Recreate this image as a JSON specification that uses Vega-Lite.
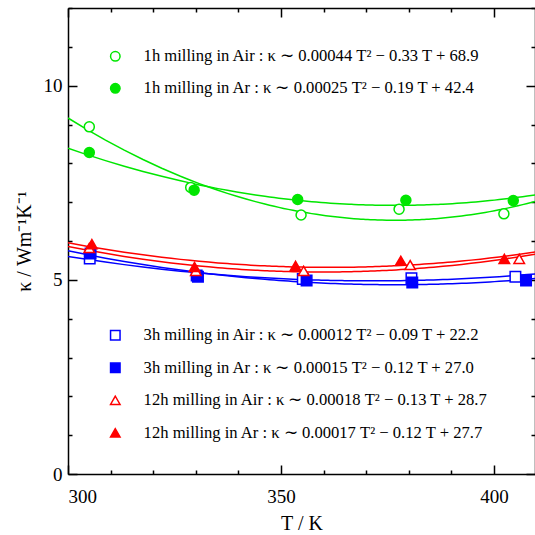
{
  "$schema": "https://vega.github.io/schema/vega-lite/v6.json",
  "width": 467,
  "height": 466,
  "autosize": {"type": "none"},
  "padding": {"left": 68, "top": 8, "right": 0, "bottom": 61},
  "background": "white",
  "config": {
    "view": {"stroke": null},
    "axis": {
      "domainColor": "black", "domainWidth": 1.5, "tickColor": "black", "tickWidth": 1.5,
      "labelFont": "Liberation Serif", "labelFontSize": 19, "labelColor": "black",
      "titleFont": "Liberation Serif", "titleFontSize": 20, "titleFontWeight": "normal", "titleColor": "black",
      "grid": false
    },
    "legend": {
      "labelFont": "Liberation Serif", "labelFontSize": 16.6, "labelColor": "black", "labelLimit": 600,
      "symbolSize": 90, "symbolStrokeWidth": 1.5, "rowPadding": 15, "labelOffset": 20, "padding": 0
    }
  },
  "data": {"values": [
    {"series": "1h milling in Air : κ ∼ 0.00044 T² − 0.33 T + 68.9", "T": 305.0, "k": 8.94},
    {"series": "1h milling in Air : κ ∼ 0.00044 T² − 0.33 T + 68.9", "T": 328.8, "k": 7.38},
    {"series": "1h milling in Air : κ ∼ 0.00044 T² − 0.33 T + 68.9", "T": 354.7, "k": 6.67},
    {"series": "1h milling in Air : κ ∼ 0.00044 T² − 0.33 T + 68.9", "T": 377.7, "k": 6.82},
    {"series": "1h milling in Air : κ ∼ 0.00044 T² − 0.33 T + 68.9", "T": 402.3, "k": 6.70},
    {"series": "1h milling in Ar : κ ∼ 0.00025 T² − 0.19 T + 42.4", "T": 305.0, "k": 8.28},
    {"series": "1h milling in Ar : κ ∼ 0.00025 T² − 0.19 T + 42.4", "T": 329.6, "k": 7.31},
    {"series": "1h milling in Ar : κ ∼ 0.00025 T² − 0.19 T + 42.4", "T": 353.9, "k": 7.07},
    {"series": "1h milling in Ar : κ ∼ 0.00025 T² − 0.19 T + 42.4", "T": 379.3, "k": 7.05},
    {"series": "1h milling in Ar : κ ∼ 0.00025 T² − 0.19 T + 42.4", "T": 404.5, "k": 7.04},
    {"series": "3h milling in Air : κ ∼ 0.00012 T² − 0.09 T + 22.2", "T": 305.1, "k": 5.55},
    {"series": "3h milling in Air : κ ∼ 0.00012 T² − 0.09 T + 22.2", "T": 330.2, "k": 5.11},
    {"series": "3h milling in Air : κ ∼ 0.00012 T² − 0.09 T + 22.2", "T": 355.1, "k": 5.02},
    {"series": "3h milling in Air : κ ∼ 0.00012 T² − 0.09 T + 22.2", "T": 380.6, "k": 5.04},
    {"series": "3h milling in Air : κ ∼ 0.00012 T² − 0.09 T + 22.2", "T": 405.0, "k": 5.08},
    {"series": "3h milling in Ar : κ ∼ 0.00015 T² − 0.12 T + 27.0", "T": 305.3, "k": 5.68},
    {"series": "3h milling in Ar : κ ∼ 0.00015 T² − 0.12 T + 27.0", "T": 330.5, "k": 5.08},
    {"series": "3h milling in Ar : κ ∼ 0.00015 T² − 0.12 T + 27.0", "T": 356.0, "k": 4.98},
    {"series": "3h milling in Ar : κ ∼ 0.00015 T² − 0.12 T + 27.0", "T": 380.8, "k": 4.93},
    {"series": "3h milling in Ar : κ ∼ 0.00015 T² − 0.12 T + 27.0", "T": 407.5, "k": 4.98},
    {"series": "12h milling in Air : κ ∼ 0.00018 T² − 0.13 T + 28.7", "T": 305.0, "k": 5.82},
    {"series": "12h milling in Air : κ ∼ 0.00018 T² − 0.13 T + 28.7", "T": 330.0, "k": 5.23},
    {"series": "12h milling in Air : κ ∼ 0.00018 T² − 0.13 T + 28.7", "T": 355.3, "k": 5.23},
    {"series": "12h milling in Air : κ ∼ 0.00018 T² − 0.13 T + 28.7", "T": 380.3, "k": 5.38},
    {"series": "12h milling in Air : κ ∼ 0.00018 T² − 0.13 T + 28.7", "T": 405.9, "k": 5.54},
    {"series": "12h milling in Ar : κ ∼ 0.00017 T² − 0.12 T + 27.7", "T": 305.6, "k": 5.92},
    {"series": "12h milling in Ar : κ ∼ 0.00017 T² − 0.12 T + 27.7", "T": 329.7, "k": 5.33},
    {"series": "12h milling in Ar : κ ∼ 0.00017 T² − 0.12 T + 27.7", "T": 353.4, "k": 5.36},
    {"series": "12h milling in Ar : κ ∼ 0.00017 T² − 0.12 T + 27.7", "T": 378.1, "k": 5.49},
    {"series": "12h milling in Ar : κ ∼ 0.00017 T² − 0.12 T + 27.7", "T": 402.4, "k": 5.54}
  ]},
  "resolve": {
    "scale": {"fill": "independent", "stroke": "independent", "shape": "independent"},
    "axis": {"x": "independent", "y": "independent"}
  },
  "layer": [
    {
      "transform": [{"filter": "indexof(datum.series, '1h') === 0"}],
      "encoding": {
        "x": {"field": "T", "type": "quantitative",
          "scale": {"domain": [300, 409.6], "nice": false, "zero": false},
          "axis": {"orient": "bottom", "title": "T / K", "titlePadding": 7,
            "values": [300, 310, 320, 330, 340, 350, 360, 370, 380, 390, 400],
            "labelExpr": "datum.value % 50 === 0 ? datum.label : ''",
            "tickSize": {"condition": {"test": "datum.value % 50 === 0", "value": -9}, "value": -4},
            "labelPadding": 22}},
        "y": {"field": "k", "type": "quantitative",
          "scale": {"domain": [0, 12], "nice": false},
          "axis": {"orient": "left", "title": "κ / Wm⁻¹K⁻¹", "titlePadding": 6, "titleX": -34,
            "values": [0, 1, 2, 3, 4, 5, 6, 7, 8, 9, 10, 11, 12],
            "labelExpr": "datum.value % 5 === 0 ? datum.label : ''",
            "tickSize": {"condition": {"test": "datum.value % 5 === 0", "value": -9}, "value": -4},
            "labelPadding": 15}}
      },
      "layer": [
        {
          "transform": [{"regression": "k", "on": "T", "groupby": ["series"], "method": "poly", "order": 2, "extent": [300, 410]}],
          "mark": {"type": "line", "color": "#00e600", "strokeWidth": 1.5, "clip": true},
          "encoding": {"detail": {"field": "series"}}
        },
        {
          "mark": {"type": "point", "size": 100, "strokeWidth": 1.5, "opacity": 1},
          "encoding": {
            "fill": {"field": "series", "type": "nominal",
              "scale": {"domain": ["1h milling in Air : κ ∼ 0.00044 T² − 0.33 T + 68.9", "1h milling in Ar : κ ∼ 0.00025 T² − 0.19 T + 42.4"], "range": ["white", "#00e600"]},
              "legend": {"orient": "none", "legendX": 39, "legendY": 40, "title": null}},
            "stroke": {"field": "series", "type": "nominal",
              "scale": {"domain": ["1h milling in Air : κ ∼ 0.00044 T² − 0.33 T + 68.9", "1h milling in Ar : κ ∼ 0.00025 T² − 0.19 T + 42.4"], "range": ["#00e600", "#00e600"]},
              "legend": {"orient": "none", "legendX": 39, "legendY": 40, "title": null}},
            "shape": {"field": "series", "type": "nominal",
              "scale": {"domain": ["1h milling in Air : κ ∼ 0.00044 T² − 0.33 T + 68.9", "1h milling in Ar : κ ∼ 0.00025 T² − 0.19 T + 42.4"], "range": ["circle", "circle"]},
              "legend": {"orient": "none", "legendX": 39, "legendY": 40, "title": null}}
          }
        }
      ]
    },
    {
      "transform": [{"filter": "indexof(datum.series, '1h') !== 0"}],
      "encoding": {
        "x": {"field": "T", "type": "quantitative",
          "scale": {"domain": [300, 409.6], "nice": false, "zero": false},
          "axis": {"orient": "top", "title": null, "labels": false,
            "values": [300, 310, 320, 330, 340, 350, 360, 370, 380, 390, 400],
            "tickSize": {"condition": {"test": "datum.value % 50 === 0", "value": -9}, "value": -4}}},
        "y": {"field": "k", "type": "quantitative",
          "scale": {"domain": [0, 12], "nice": false},
          "axis": {"orient": "right", "title": null, "labels": false,
            "values": [0, 1, 2, 3, 4, 5, 6, 7, 8, 9, 10, 11, 12],
            "tickSize": {"condition": {"test": "datum.value % 5 === 0", "value": -9}, "value": -4}}}
      },
      "layer": [
        {
          "transform": [{"filter": "indexof(datum.series, '3h') === 0"}, {"regression": "k", "on": "T", "groupby": ["series"], "method": "poly", "order": 2, "extent": [300, 410]}],
          "mark": {"type": "line", "color": "#0000ff", "strokeWidth": 1.5, "clip": true},
          "encoding": {"detail": {"field": "series"}}
        },
        {
          "transform": [{"filter": "indexof(datum.series, '12h') === 0"}, {"regression": "k", "on": "T", "groupby": ["series"], "method": "poly", "order": 2, "extent": [300, 410]}],
          "mark": {"type": "line", "color": "#ff0000", "strokeWidth": 1.5, "clip": true},
          "encoding": {"detail": {"field": "series"}}
        },
        {
          "mark": {"type": "point", "size": 110, "strokeWidth": 1.5, "opacity": 1},
          "encoding": {
            "fill": {"field": "series", "type": "nominal",
              "scale": {"domain": ["3h milling in Air : κ ∼ 0.00012 T² − 0.09 T + 22.2", "3h milling in Ar : κ ∼ 0.00015 T² − 0.12 T + 27.0", "12h milling in Air : κ ∼ 0.00018 T² − 0.13 T + 28.7", "12h milling in Ar : κ ∼ 0.00017 T² − 0.12 T + 27.7"], "range": ["white", "#0000ff", "white", "#ff0000"]},
              "legend": {"orient": "none", "legendX": 39, "legendY": 319, "title": null, "rowPadding": 15.5}},
            "stroke": {"field": "series", "type": "nominal",
              "scale": {"domain": ["3h milling in Air : κ ∼ 0.00012 T² − 0.09 T + 22.2", "3h milling in Ar : κ ∼ 0.00015 T² − 0.12 T + 27.0", "12h milling in Air : κ ∼ 0.00018 T² − 0.13 T + 28.7", "12h milling in Ar : κ ∼ 0.00017 T² − 0.12 T + 27.7"], "range": ["#0000ff", "#0000ff", "#ff0000", "#ff0000"]},
              "legend": {"orient": "none", "legendX": 39, "legendY": 319, "title": null, "rowPadding": 15.5}},
            "shape": {"field": "series", "type": "nominal",
              "scale": {"domain": ["3h milling in Air : κ ∼ 0.00012 T² − 0.09 T + 22.2", "3h milling in Ar : κ ∼ 0.00015 T² − 0.12 T + 27.0", "12h milling in Air : κ ∼ 0.00018 T² − 0.13 T + 28.7", "12h milling in Ar : κ ∼ 0.00017 T² − 0.12 T + 27.7"], "range": ["square", "square", "triangle-up", "triangle-up"]},
              "legend": {"orient": "none", "legendX": 39, "legendY": 319, "title": null, "rowPadding": 15.5}}
          }
        }
      ]
    }
  ]
}
